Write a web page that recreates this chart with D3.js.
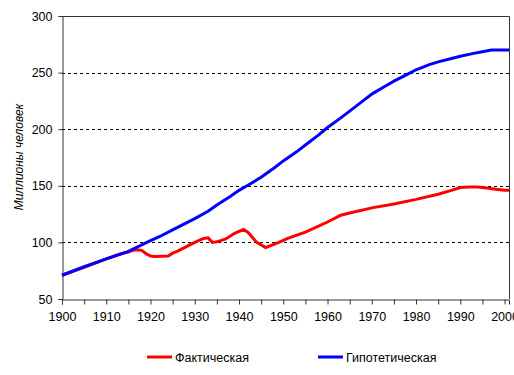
<!DOCTYPE html>
<html>
<head>
<meta charset="utf-8">
<script src="https://cdn.jsdelivr.net/npm/d3@7"></script>
<style>
  body { margin: 0; background: #fff; }
  svg { font-family: "Liberation Sans", Arial, sans-serif; font-size: 12px; }
</style>
</head>
<body>
<div id="chart"></div>
<script>
// гипотетическая численность (синяя)
const hypoYears = [1900, 1905, 1910, 1915, 1920, 1922, 1925, 1930, 1933, 1935, 1938, 1940,
                   1942, 1945, 1948, 1950, 1953, 1955, 1958, 1960, 1963, 1965, 1968, 1970,
                   1973, 1975, 1978, 1980, 1983, 1985, 1988, 1990, 1993, 1995, 1997, 2001];
const hypoVals  = [71, 78.5, 85.5, 92, 101.5, 105, 111, 121, 127.5, 133, 140.5, 146,
                   150.5, 157.5, 166, 172, 180, 186, 195, 201.5, 210, 216, 225, 231,
                   238, 242.5, 248.5, 252.5, 257, 259.5, 262.5, 264.5, 267, 268.5, 270, 270];

// фактическая численность (красная)
const factYears = [1900, 1905, 1910, 1913, 1914, 1915, 1916, 1917, 1918, 1919, 1920, 1921,
                   1924, 1925, 1926, 1930, 1932, 1933, 1934, 1935, 1937, 1939, 1941, 1942,
                   1944, 1946, 1947, 1949, 1951, 1955, 1960, 1963, 1965, 1970, 1975, 1980,
                   1985, 1988, 1990, 1992, 1994, 1996, 1998, 2000, 2001];
const factVals  = [71, 78, 85.5, 89.5, 90.5, 91.5, 93, 93.5, 93, 90, 88, 87.5,
                   88, 90.5, 92, 100, 103.5, 104, 100, 100.5, 103, 108, 111.5, 109,
                   100, 95.5, 97, 100, 103.5, 109, 118, 124, 126, 130.5, 134, 138,
                   142.5, 146, 148.5, 149, 149, 148, 147, 146, 146];

const yTicks = [50, 100, 150, 200, 250, 300];
const xLabels = [1900, 1910, 1920, 1930, 1940, 1950, 1960, 1970, 1980, 1990, 2000];
const xTicks = d3.range(1900, 2001, 5);

const seriesNames = ["Фактическая", "Гипотетическая"];
const seriesColors = ["#ff0000", "#0000ff"];

const width = 514, height = 375;
const margin = {top: 16, left: 62, right: 5, bottom: 76};

const svg = d3.select("#chart").append("svg")
    .attr("width", width)
    .attr("height", height);

const x = d3.scaleLinear()
    .domain([1900, 2001])
    .range([margin.left, width - margin.right]);

const y = d3.scaleLinear()
    .domain([50, 300])
    .range([height - margin.bottom, margin.top]);

// сетка
svg.append("g").selectAll("line")
    .data(yTicks.filter(d => d > 50 && d < 300))
    .enter().append("line")
    .attr("x1", x(1900)).attr("x2", x(2001))
    .attr("y1", d => Math.round(y(d)) + 0.5).attr("y2", d => Math.round(y(d)) + 0.5)
    .style("stroke", "#000")
    .style("stroke-dasharray", "3,3");

// рамка сверху и справа
svg.append("path")
    .attr("d", `M${x(1900)},${margin.top + 0.5}H${Math.round(x(2001)) + 0.5}V${y(50)}`)
    .style("fill", "none")
    .style("stroke", "#333");

const yAxis = svg.append("g")
    .attr("transform", `translate(${Math.round(x(1900)) + 0.5},0)`)
    .call(d3.axisLeft(y).tickValues(yTicks).tickSize(4).tickPadding(6));

const xAxis = svg.append("g")
    .attr("transform", `translate(0,${Math.round(y(50)) + 0.5})`)
    .call(d3.axisBottom(x).tickValues(xTicks).tickSize(5).tickPadding(8)
        .tickFormat(d => xLabels.includes(d) ? d : ""));

[yAxis, xAxis].forEach(a => {
    a.select(".domain").style("stroke", "#333");
    a.selectAll(".tick line").style("stroke", "#333");
    a.selectAll("text").style("font-family", "Liberation Sans, Arial, sans-serif")
        .style("font-size", "12.5px").style("fill", "#000");
});

svg.append("text")
    .attr("transform", "translate(23,157) rotate(-90)")
    .attr("text-anchor", "middle")
    .style("font-style", "italic")
    .text("Миллионы человек");

const line = d3.line()
    .x(d => x(d[0]))
    .y(d => y(d[1]));

const hypo = hypoYears.map((d, i) => [d, hypoVals[i]]);
const fact = factYears.map((d, i) => [d, factVals[i]]);

svg.append("path")
    .datum(fact)
    .attr("d", line)
    .style("fill", "none")
    .style("stroke", seriesColors[0])
    .style("stroke-width", 3);

svg.append("path")
    .datum(hypo)
    .attr("d", line)
    .style("fill", "none")
    .style("stroke", seriesColors[1])
    .style("stroke-width", 3);

// легенда
const legendX = [147, 318];
const legend = svg.append("g").selectAll("g")
    .data(seriesNames)
    .enter().append("g")
    .attr("transform", (d, i) => `translate(${legendX[i]},357)`);

legend.append("line")
    .attr("x1", 0).attr("x2", 25)
    .style("stroke", (d, i) => seriesColors[i])
    .style("stroke-width", 3);

legend.append("text")
    .attr("x", 28).attr("y", 4.5)
    .style("font-size", "12.5px")
    .text(d => d);
</script>
</body>
</html>
